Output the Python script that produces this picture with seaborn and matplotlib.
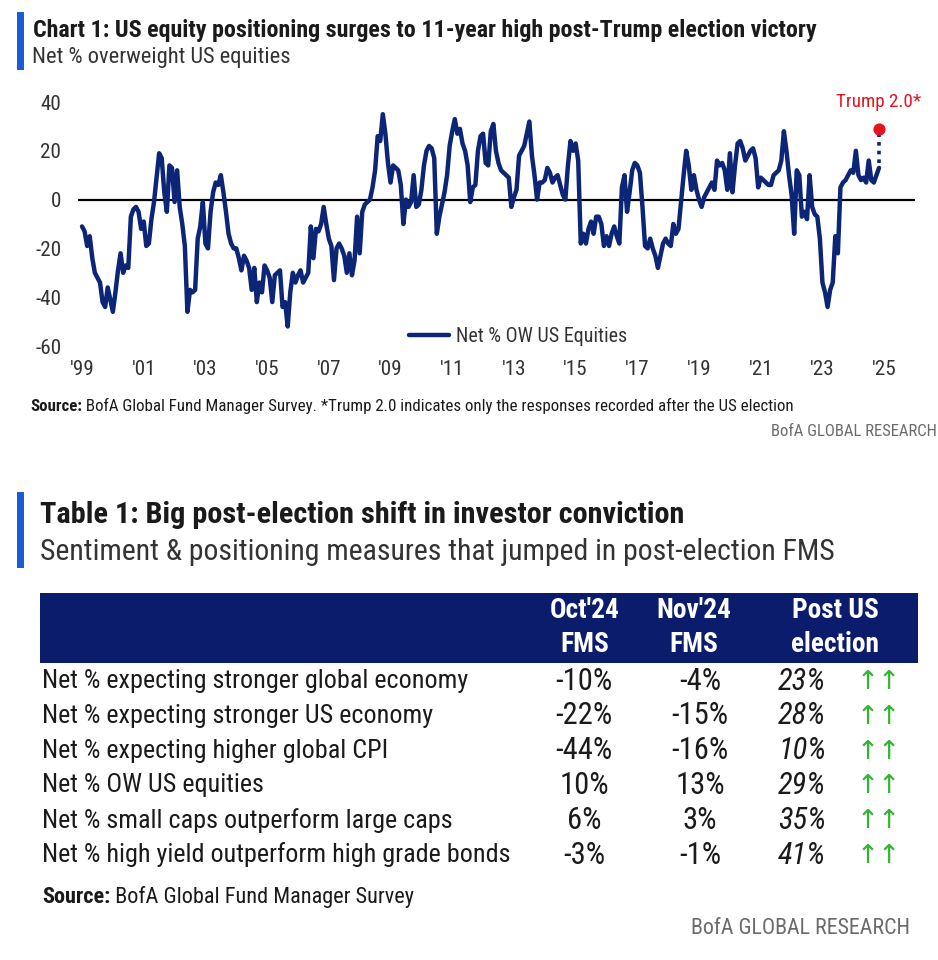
import numpy as np
import pandas as pd
import matplotlib
matplotlib.use("Agg")
import matplotlib.pyplot as plt
import seaborn as sns
from matplotlib.patches import Rectangle
from matplotlib import font_manager as fm

# ---------------- data ----------------
start_month = "1999-01"
net_ow_us = [
    -11, -13, -19, -15, -24, -30, -32, -34, -42, -44, -36, -41,   # 1999
    -46, -38, -29, -22, -30, -27, -28, -7, -4, -3, -5, -12,       # 2000
    -9, -19, -18, -8, -1, 9, 19, 17, 3, -5, 14, 13,               # 2001
    -1, 12, -3, -10, -19, -46, -37, -38, -37, -16, -11, -1,       # 2002
    -18, -20, -5, 3, 7, 6, 10, 3, -5, -14, -18, -20,              # 2003
    -20, -24, -29, -23, -25, -28, -37, -28, -42, -34, -38, -27,   # 2004
    -29, -32, -42, -31, -30, -29, -44, -42, -52, -38, -30, -34,   # 2005
    -31, -29, -34, -32, -30, -11, -24, -12, -13, -10, -3, -10,    # 2006
    -16, -19, -33, -20, -18, -20, -23, -30, -22, -31, -25, -7,    # 2007
    -22, -5, -2, -1, 0, 5, 12, 26, 24, 35, 27, 15,                # 2008
    7, 14, 13, 12, 6, -10, 0, -3, -1, 10, -3, -2,                 # 2009
    4, 14, 20, 22, 21, 17, -14, -7, -2, 3, 10, 22,                # 2010
    28, 33, 27, 29, 23, 20, 14, -1, 5, 6, 20, 26,                 # 2011
    27, 15, 14, 28, 31, 20, 15, 12, 11, 10, 9, -3,                # 2012
    1, 4, 18, 20, 22, 27, 32, 18, 10, 0, 7, 7,                    # 2013
    8, 13, 11, 7, 9, 10, 6, 2, 0, 14, 24, 20,                     # 2014
    23, 16, -18, -14, -18, -12, -9, -14, -7, -7, -10, -19,        # 2015
    -15, -19, -14, -11, -15, -18, 5, 10, -5, 3, 12, 15,           # 2016
    14, 11, -3, -19, -20, -16, -20, -23, -28, -23, -18, -16,      # 2017
    -18, -19, -10, -14, -12, -1, 10, 20, 14, 4, 10, 4,            # 2018
    0, -3, 1, 3, 5, 7, 4, 16, 14, 15, 12, 4,                      # 2019
    19, 3, 14, 23, 24, 21, 16, 18, 20, 21, 17, 5,                 # 2020
    9, 8, 7, 6, 6, 10, 11, 12, 16, 28, 20, 10,                    # 2021
    2, -14, 12, 10, -7, -5, -8, 10, -3, -6, -7, -16,              # 2022
    -34, -38, -44, -37, -34, -15, -22, 5, 7, 8, 10, 12,           # 2023
    11, 20, 10, 8, 9, 7, 16, 8, 7, 10, 13,                        # 2024 (to Nov)
]
trump_post_value = 29
year_ticks = list(range(1999, 2026, 2))
year_labels = ["'" + str(y)[2:] for y in year_ticks]
y_ticks = [-60, -40, -20, 0, 20, 40]
series_name = "Net % OW US Equities"

row_labels = [
    "Net % expecting stronger global economy",
    "Net % expecting stronger US economy",
    "Net % expecting higher global CPI",
    "Net % OW US equities",
    "Net % small caps outperform large caps",
    "Net % high yield outperform high grade bonds",
]
oct24 = [-10, -22, -44, 10, 6, -3]
nov24 = [-4, -15, -16, 13, 3, -1]
post_election = [23, 28, 10, 29, 35, 41]
col_headers = [("Oct'24", "FMS"), ("Nov'24", "FMS"), ("Post US", "election")]

# ---------------- style ----------------
NAVY = "#0c2577"
HEADER_NAVY = "#0b1c6c"
BLUE_BAR = "#1d5bd6"
RED = "#e3141f"
GREEN = "#2fb52f"
TXT = "#1a1a1a"
GREY = "#6b6b6b"

sns.set_theme(style="white")
avail = {f.name for f in fm.fontManager.ttflist}
pref = ["Liberation Sans Narrow", "DejaVu Sans Condensed", "Roboto Condensed",
        "Open Sans Condensed", "Roboto", "Liberation Sans"]
MAIN = next((p for p in pref if p in avail), "DejaVu Sans")
plt.rcParams["font.family"] = [MAIN, "DejaVu Sans"]

W, H = 938, 960
fig = plt.figure(figsize=(W / 100, H / 100), dpi=100)
fig.patch.set_facecolor("white")
renderer = fig.canvas.get_renderer()


def width_of(t):
    return t.get_window_extent(renderer).width


def fit(texts, target):
    """scale the font size of a group of texts so that their summed width hits target px"""
    total = sum(width_of(t) for t in texts)
    for t in texts:
        t.set_fontsize(t.get_fontsize() * target / total)
    return texts[0].get_fontsize()


def size_for(s, target, weight="normal", base=20):
    t = fig.text(0, 0, s, fontsize=base, fontweight=weight)
    w = width_of(t)
    t.remove()
    return base * target / w


# background overlay axes in pixel coords
bg = fig.add_axes([0, 0, 1, 1])
bg.set_xlim(0, W)
bg.set_ylim(H, 0)
bg.axis("off")

# ---------------- chart 1 header ----------------
bg.add_patch(Rectangle((17, 12), 7, 58, color=BLUE_BAR, lw=0))
t = bg.text(33, 30, "Chart 1: US equity positioning surges to 11-year high post-Trump election victory",
            fontsize=15.5, fontweight="bold", color=TXT, va="center", ha="left")
fit([t], 782)
t = bg.text(32, 58, "Net % overweight US equities", fontsize=14.5, color="#333333", va="center", ha="left")
fit([t], 257)

# ---------------- line chart ----------------
dates = pd.date_range(start_month, periods=len(net_ow_us), freq="MS")
dec_year = dates.year + (dates.month - 1) / 12.0
df = pd.DataFrame({"year": dec_year, "value": net_ow_us, "series": series_name})

tick_size = size_for("-60", 26)
leg_size = size_for(series_name, 170)
trump_size = size_for("Trump 2.0*", 85)

ax = fig.add_axes([78 / W, (H - 346) / H, 837 / W, 244 / H])
ax.patch.set_alpha(0)
ax.axhline(0, color="black", lw=1.6, zorder=1)
sns.lineplot(data=df, x="year", y="value", hue="series", palette=[NAVY], linewidth=3.2, ax=ax, zorder=3)
for ln in ax.get_lines()[1:]:
    ln.set_linewidth(3.2)
last_x = df["year"].iloc[-1]
last_y = df["value"].iloc[-1]
ax.plot([last_x, last_x], [last_y + 2, trump_post_value], ls=(0, (1, 1.4)), color=NAVY, lw=2.6, zorder=3)
ax.scatter([last_x], [trump_post_value], s=60, color=RED, zorder=5, clip_on=False)
ax.annotate("Trump 2.0*", xy=(last_x, trump_post_value), xytext=(0, 19), textcoords="offset points",
            ha="center", va="center", fontsize=trump_size, color=RED, annotation_clip=False)

ax.set_xlim(1998.87, 2026.0)
ax.set_ylim(-60, 40)
ax.set_xticks(year_ticks)
ax.set_xticklabels(year_labels)
ax.set_yticks(y_ticks)
ax.set_yticklabels([str(v) for v in y_ticks])
ax.set_xlabel("")
ax.set_ylabel("")
sns.despine(ax=ax, left=True, bottom=True)
ax.tick_params(axis="both", length=0, labelsize=tick_size, labelcolor="#333333")
ax.tick_params(axis="y", pad=12)
ax.tick_params(axis="x", pad=10)
ax.grid(False)
leg = ax.legend(loc="center", bbox_to_anchor=(0.526, 0.037), frameon=False, fontsize=leg_size,
                handlelength=40 / (leg_size * 100 / 72), handletextpad=0.35)
for tt in leg.get_texts():
    tt.set_color("#333333")
for lh in leg.get_lines():
    lh.set_linewidth(3.2)

# footer chart 1
src1 = bg.text(30, 414, "Source:", fontsize=11, fontweight="bold", color=TXT, va="bottom", ha="left")
rest1 = bg.annotate(" BofA Global Fund Manager Survey. *Trump 2.0 indicates only the responses recorded after the US election",
                    xy=(1, 0), xycoords=src1, va="bottom", ha="left", fontsize=11, color=TXT)
fit([src1, rest1], 760)
t = bg.text(937, 431, "BofA GLOBAL RESEARCH", fontsize=11, color=GREY, va="center", ha="right")
fit([t], 165)

# ---------------- table ----------------
bg.add_patch(Rectangle((17, 492), 7, 76, color=BLUE_BAR, lw=0))
t = bg.text(40, 515, "Table 1: Big post-election shift in investor conviction",
            fontsize=18.5, fontweight="bold", color=TXT, va="center", ha="left")
fit([t], 645)
t = bg.text(40, 552, "Sentiment & positioning measures that jumped in post-election FMS",
            fontsize=19, color="#333333", va="center", ha="left")
fit([t], 795)

bg.add_patch(Rectangle((40, 593), 878, 70, color=HEADER_NAVY, lw=0))
hdr_size = size_for("election", 88, weight="bold")
header_x = [585, 694, 835]
for (h1, h2), hx in zip(col_headers, header_x):
    bg.text(hx, 610, h1, fontsize=hdr_size, fontweight="bold", color="white", ha="center", va="center")
    bg.text(hx, 645, h2, fontsize=hdr_size, fontweight="bold", color="white", ha="center", va="center")

row_size = size_for(row_labels[-1], 468)
val_size = size_for("-10%", 57)
row_y0, row_dy = 681, 34.8
for i, lab in enumerate(row_labels):
    y = row_y0 + i * row_dy
    bg.text(42, y, lab, fontsize=row_size, color=TXT, ha="left", va="center")
    bg.text(584, y, f"{oct24[i]}%", fontsize=val_size, color=TXT, ha="center", va="center")
    bg.text(700, y, f"{nov24[i]}%", fontsize=val_size, color=TXT, ha="center", va="center")
    bg.text(802, y, f"{post_election[i]}%", fontsize=val_size, color=TXT, ha="center", va="center",
            style="italic")
    bg.text(879, y + 1, "\u2191\u2191", fontsize=19, color=GREEN, ha="center", va="center",
            family=["DejaVu Sans"])

src2 = bg.text(42, 908, "Source:", fontsize=15, fontweight="bold", color=TXT, va="bottom", ha="left")
rest2 = bg.annotate(" BofA Global Fund Manager Survey", xy=(1, 0), xycoords=src2, va="bottom", ha="left",
                    fontsize=15, color=TXT)
fit([src2, rest2], 373)
t = bg.text(910, 928, "BofA GLOBAL RESEARCH", fontsize=15, color=GREY, va="center", ha="right")
fit([t], 220)

fig.savefig("out.png", dpi=100, facecolor="white")
